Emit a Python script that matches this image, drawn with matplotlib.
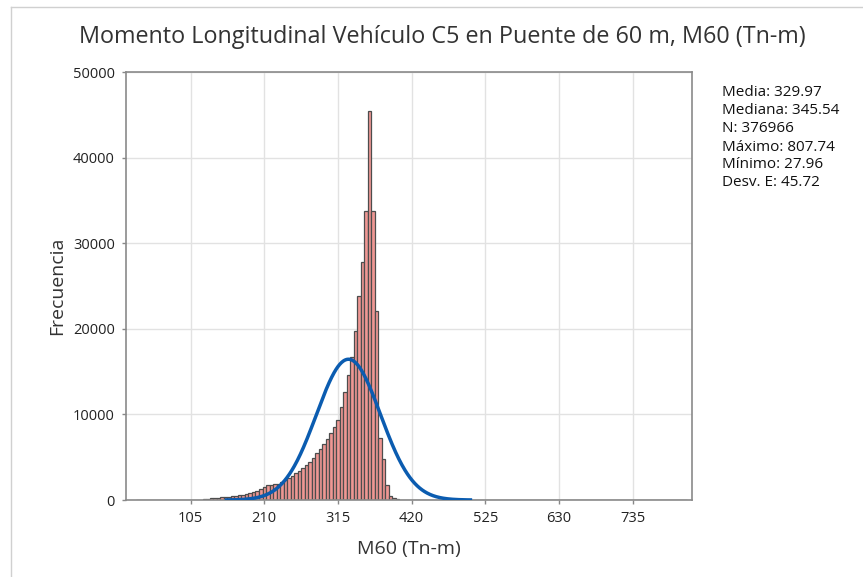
import numpy as np
import matplotlib
matplotlib.use('Agg')
import matplotlib.pyplot as plt

plt.rcParams['font.family'] = ['Open Sans', 'DejaVu Sans']

# Histogram: bins of width 5, first bin centred at 30
bin_start = 30
bin_width = 5

# counts (left tail, body, right tail)
counts_left = [2, 1, 1, 2, 2, 3, 4, 5, 6, 8, 10, 12, 15, 18, 22, 28, 35, 45, 55]
counts_body = [80, 150, 180, 210, 250, 300, 350, 400, 450, 490,
               540, 600, 680, 780, 900, 1050, 1250, 1500, 1700, 1800,
               1850, 1900, 2050, 2300, 2600, 2850, 3100, 3400, 3750, 4100,
               4500, 4950, 5450, 5950, 6500, 7100, 7800, 8500, 9400, 10900,
               12600, 14600, 16700, 19800, 23800, 27800, 33800, 45400, 33800, 22100,
               7200, 4750, 1750, 450, 200, 110, 50]
counts_right = [25, 12, 8, 5, 4, 3, 2, 2, 1, 1,
                1, 1, 1, 0, 1, 0, 1, 0, 0, 1,
                0, 0, 1, 0, 0, 0, 1, 0, 0, 0,
                0, 1, 0, 0, 0, 0, 0, 1, 0, 0,
                0, 0, 0, 0, 1, 0, 0, 0, 0, 0,
                0, 0, 0, 1, 0, 0, 0, 0, 0, 0,
                0, 0, 0, 0, 0, 0, 1, 0, 0, 0,
                0, 0, 0, 0, 0, 0, 0, 0, 0, 0, 1]

media = 329.97
mediana = 345.54
n_total = 376966
maximo = 807.74
minimo = 27.96
desv = 45.72

xticks = [105, 210, 315, 420, 525, 630, 735]
yticks = [0, 10000, 20000, 30000, 40000, 50000]

counts = counts_left + counts_body + counts_right
centers = bin_start + bin_width * np.arange(len(counts))

fig = plt.figure(figsize=(8.63, 5.77), dpi=100)
ax = fig.add_axes([0.146, 0.1334, 0.6555, 0.7418])

ax.bar(centers, counts, width=bin_width, color='#EF9793',
       edgecolor='#4d4d4d', linewidth=0.9, zorder=2)

# fitted normal curve
xs = np.linspace(media - 3.8 * desv, media + 3.8 * desv, 400)
ys = n_total * bin_width / (desv * np.sqrt(2 * np.pi)) * np.exp(-0.5 * ((xs - media) / desv) ** 2)
ax.plot(xs, ys, color='#0B5CB0', linewidth=2.5, zorder=3)

ax.set_xlim(13, 819)
ax.set_ylim(0, 50000)
ax.set_xticks(xticks)
ax.set_yticks(yticks)
ax.tick_params(labelsize=10.5, colors='#222222', length=3, width=1, pad=5)
ax.tick_params(color='#888888')
ax.grid(True, color='#e2e2e2', linewidth=1, zorder=0)
ax.set_axisbelow(True)
for s in ax.spines.values():
    s.set_color('#8a8a8a')
    s.set_linewidth(1.2)

ax.set_xlabel('M60 (Tn-m)', fontsize=14, color='#333333', labelpad=10)
ax.set_ylabel('Frecuencia', fontsize=14, color='#333333', labelpad=5)

fig.text(0.512, 0.936, 'Momento Longitudinal Vehículo C5 en Puente de 60 m, M60 (Tn-m)',
         ha='center', va='center', fontsize=16.8, color='#333333')

stats = [f'Media: {media:.2f}', f'Mediana: {mediana:.2f}', f'N: {n_total}',
         f'Máximo: {maximo:.2f}', f'Mínimo: {minimo:.2f}', f'Desv. E: {desv:.2f}']
for i, t in enumerate(stats):
    fig.text(722 / 863, 1 - (93 + 18 * i) / 577, t, ha='left', va='center',
             fontsize=11, color='#111111')

# frame of the screenshot
fig.add_artist(plt.Line2D([11 / 863, 11 / 863], [0, 1 - 7 / 577], color='#d0d0d0', linewidth=1))
fig.add_artist(plt.Line2D([11 / 863, 1], [1 - 7 / 577, 1 - 7 / 577], color='#d0d0d0', linewidth=1))

fig.savefig('out.png', dpi=100)
